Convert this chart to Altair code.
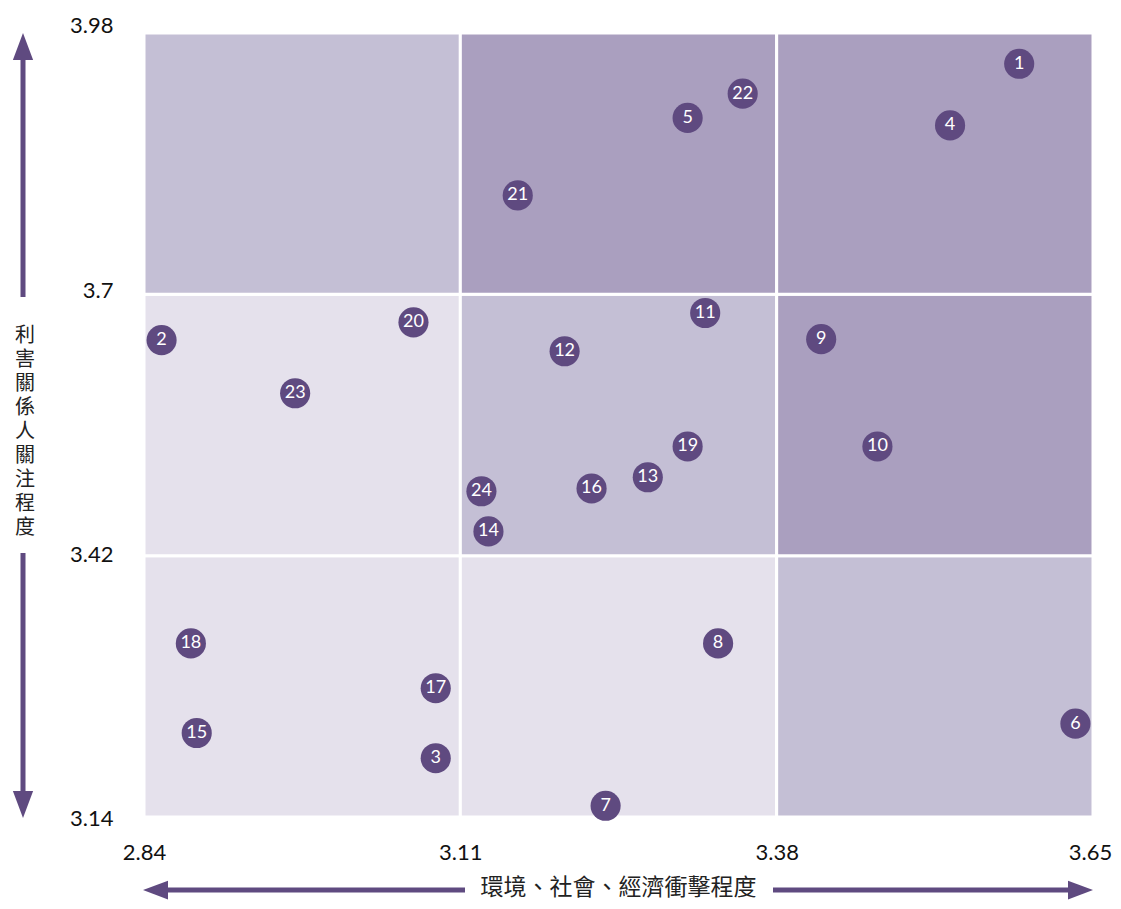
import altair as alt
import pandas as pd

# ---- data ----
ids = [str(i) for i in range(1, 25)]
x_vals = [3.587, 2.855, 3.089, 3.528, 3.304, 3.635, 3.234, 3.330, 3.418, 3.466, 3.319, 3.199,
          3.270, 3.134, 2.885, 3.222, 3.089, 2.880, 3.304, 3.070, 3.159, 3.351, 2.969, 3.128]
y_vals = [3.947, 3.651, 3.203, 3.881, 3.889, 3.240, 3.152, 3.326, 3.652, 3.537, 3.680, 3.639,
          3.504, 3.446, 3.230, 3.492, 3.278, 3.326, 3.537, 3.670, 3.806, 3.915, 3.594, 3.489]

x_breaks = [2.84, 3.11, 3.38, 3.65]
y_breaks = [3.14, 3.42, 3.70, 3.98]
# shade of each cell, rows from bottom to top, columns left to right
shades = [["light", "light", "medium"],
          ["light", "medium", "dark"],
          ["medium", "dark", "dark"]]
shade_names = ["light", "medium", "dark"]
shade_colors = ["#E5E1EC", "#C4BFD5", "#AA9FBF"]

x_title = "環境、社會、經濟衝擊程度"
y_title = "利害關係人關注程度"

POINT = "#5F4A80"
FONT = "Lato"
CJK = "Noto Sans CJK TC"

pts = pd.DataFrame({"id": ids, "x": x_vals, "y": y_vals})

cells = []
for r in range(3):
    for c in range(3):
        cells.append({"x0": x_breaks[c], "x1": x_breaks[c + 1],
                      "y0": y_breaks[r], "y1": y_breaks[r + 1], "shade": shades[r][c]})
cells = pd.DataFrame(cells)

W, H = 949, 784

xs = alt.Scale(domain=[x_breaks[0], x_breaks[-1]], nice=False, zero=False)
ys = alt.Scale(domain=[y_breaks[0], y_breaks[-1]], nice=False, zero=False)

xaxis = alt.Axis(values=x_breaks, format=".2~f", title=None, ticks=False, tickSize=0, domain=False,
                 grid=False, labelFontSize=22, labelFont=FONT, labelColor="#111", labelPadding=25,
                 labelFlush=False, labelOverlap=False,
                 labelOffset={"condition": {"test": "datum.value > 3.6", "value": -3}, "value": 0})
yaxis = alt.Axis(values=y_breaks, format=".2~f", title=None, ticks=False, tickSize=0, domain=False,
                 grid=False, labelFontSize=22, labelFont=FONT, labelColor="#111", labelPadding=31,
                 labelFlush=False, labelOverlap=False,
                 labelOffset={"condition": [{"test": "datum.value > 3.9", "value": -8},
                                            {"test": "datum.value > 3.6", "value": -4},
                                            {"test": "datum.value > 3.3", "value": -1}],
                              "value": 1})

rects = alt.Chart(cells).mark_rect(stroke="white", strokeWidth=3).encode(
    x=alt.X("x0:Q", scale=xs, axis=xaxis),
    x2="x1",
    y=alt.Y("y0:Q", scale=ys, axis=yaxis),
    y2="y1",
    color=alt.Color("shade:N", scale=alt.Scale(domain=shade_names, range=shade_colors), legend=None),
)

circles = alt.Chart(pts).mark_circle(size=908, opacity=1, color=POINT).encode(
    x=alt.X("x:Q", scale=xs), y=alt.Y("y:Q", scale=ys))

labels = alt.Chart(pts).mark_text(color="white", fontSize=18, font=FONT, baseline="middle").encode(
    x=alt.X("x:Q", scale=xs), y=alt.Y("y:Q", scale=ys), text="id:N")

one = pd.DataFrame({"a": [0]})

def rule(**enc):
    return alt.Chart(one).mark_rule(color=POINT, strokeWidth=5, strokeCap="butt").encode(**enc)

def head(path, size, **enc):
    return alt.Chart(one).mark_point(shape=path, filled=True, size=size, color=POINT, opacity=1,
                                     strokeWidth=0).encode(**enc)

AX = -121      # vertical arrow x (px from plot left)
AY = 857       # horizontal arrow y (px from plot top)

arrows = [
    rule(x=alt.value(AX), y=alt.value(18), y2=alt.value(264)),
    rule(x=alt.value(AX), y=alt.value(520), y2=alt.value(767)),
    head("M0,-1L0.75,1L-0.75,1Z", 729, x=alt.value(AX), y=alt.value(13.5)),
    head("M0,1L0.75,-1L-0.75,-1Z", 729, x=alt.value(AX), y=alt.value(785 - 13.5)),
    rule(y=alt.value(AY), x=alt.value(18), x2=alt.value(321)),
    rule(y=alt.value(AY), x=alt.value(629), x2=alt.value(931)),
    head("M-1,0L1,-0.75L1,0.75Z", 625, x=alt.value(-1 + 12.5), y=alt.value(AY)),
    head("M1,0L-1,-0.75L-1,0.75Z", 625, x=alt.value(949 - 12.5), y=alt.value(AY)),
]

xt = alt.Chart(pd.DataFrame({"t": [x_title]})).mark_text(
    font=CJK, fontSize=23, color="#222", baseline="middle", align="center").encode(
    text="t:N", x=alt.value(W / 2), y=alt.value(855))

yt = alt.Chart(pd.DataFrame({"t": ["\n".join(list(y_title))]})).mark_text(
    font=CJK, fontSize=20, color="#222", baseline="top", align="center",
    lineBreak="\n", lineHeight=24).encode(
    text="t:N", x=alt.value(AX + 2), y=alt.value(293))

chart = alt.layer(rects, circles, labels, *arrows, xt, yt).properties(
    width=W, height=H,
    autosize=alt.AutoSizeParams(type="none"),
    padding={"left": 136, "top": 25, "right": 20, "bottom": 84},
).configure_view(stroke=None)

chart.save("out.html", embed_options={"renderer": "svg", "actions": False})
